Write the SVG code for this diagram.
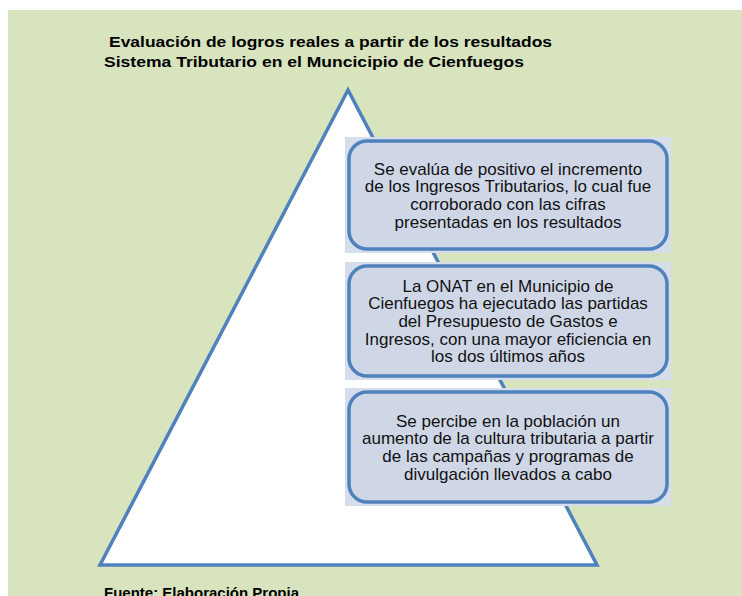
<svg xmlns="http://www.w3.org/2000/svg" width="742" height="596" viewBox="0 0 742 596">
<style>
.bg{fill:#d7e4bd}
.tri{fill:#ffffff;stroke:#4f81bd;stroke-width:3.5;stroke-linejoin:miter}
.pad{fill:#d6deeb}
.box{fill:#cfd7e7;stroke:#4f81bd;stroke-width:3.5}
.t{font-family:"Liberation Sans",Arial,sans-serif;font-size:17px;fill:#111;text-anchor:middle}
.h{font-family:"Liberation Sans",Arial,sans-serif;font-size:15px;font-weight:bold;fill:#000}
</style>
<rect x="0" y="0" width="742" height="596" fill="#ffffff"/>
<rect class="bg" x="8" y="10" width="734" height="586"/>
<g id="title">
<text class="h" x="109" y="47" textLength="443" lengthAdjust="spacingAndGlyphs">Evaluación de logros reales a partir de los resultados</text>
<text class="h" x="104" y="67" textLength="420" lengthAdjust="spacingAndGlyphs">Sistema Tributario en el Muncicipio de Cienfuegos</text>
</g>
<g id="pyramid">
<polygon class="tri" points="348,90 100,565 597,565"/>
</g>
<g id="box1">
<rect class="pad" x="345" y="137" width="326" height="116"/>
<rect class="box" x="349" y="141" width="318" height="108" rx="18"/>
<text class="t" x="508" y="174.5">Se  evalúa de positivo el incremento</text>
<text class="t" x="508" y="192.2">de los Ingresos Tributarios, lo cual fue</text>
<text class="t" x="508" y="209.8">corroborado con las cifras</text>
<text class="t" x="508" y="227.5">presentadas en los resultados</text>
</g>
<g id="box2">
<rect class="pad" x="345" y="262" width="326" height="118"/>
<rect class="box" x="349" y="266" width="318" height="110" rx="18"/>
<text class="t" x="508" y="291.6">La ONAT en el Municipio de</text>
<text class="t" x="508" y="309.3">Cienfuegos ha ejecutado las partidas</text>
<text class="t" x="508" y="327">del Presupuesto de Gastos e</text>
<text class="t" x="508" y="344.7">Ingresos, con una mayor eficiencia en</text>
<text class="t" x="508" y="362.4">los dos últimos años</text>
</g>
<g id="box3">
<rect class="pad" x="345" y="388" width="326" height="118"/>
<rect class="box" x="349" y="392" width="318" height="110" rx="18"/>
<text class="t" x="508" y="426.5">Se percibe en la población un</text>
<text class="t" x="508" y="444.2">aumento de la cultura tributaria a partir</text>
<text class="t" x="508" y="461.8">de las campañas y programas de</text>
<text class="t" x="508" y="479.5">divulgación llevados a cabo</text>
</g>
<g id="connectors"></g>
<g id="footer">
<text class="h" x="104" y="598">Fuente: Elaboración Propia</text>
</g>
</svg>
